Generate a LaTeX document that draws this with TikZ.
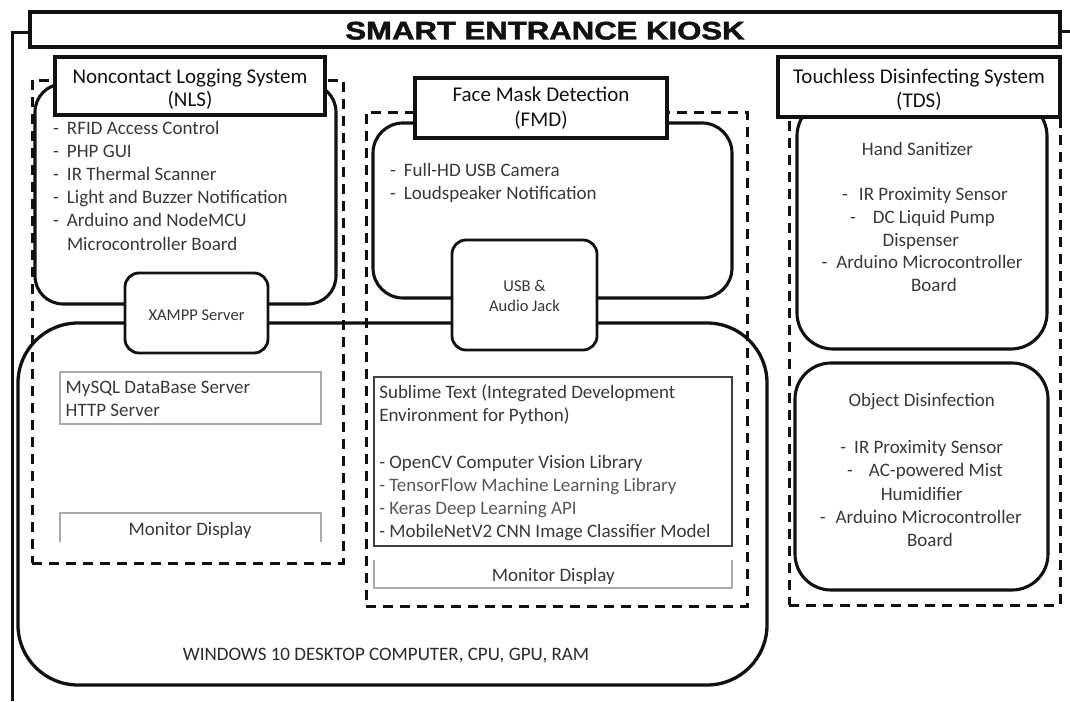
\documentclass[tikz,border=0pt]{standalone}
\usepackage{fontspec}
\usepackage{graphicx}
\setmainfont{Carlito}
\newfontfamily\headfont{Liberation Sans}[BoldFeatures={FakeBold=1.6}]
\usetikzlibrary{fit}

\definecolor{ink}{HTML}{111111}
\definecolor{itemgray}{HTML}{383838}
\definecolor{lightitem}{HTML}{575757}
\definecolor{paleedge}{HTML}{AAAAAA}
\definecolor{darkedge}{HTML}{404040}

\begin{document}
\begin{tikzpicture}[x=1pt,y=-1pt,
  every node/.style={inner sep=0pt, outer sep=0pt},
  framestroke/.style={draw=ink, line width=3pt},
  headbox/.style={draw=ink, line width=4pt, fill=white},
  roundbox/.style={draw=ink, line width=3.1pt},
  dashbox/.style={draw=ink, line width=3pt, dash pattern=on 10pt off 7pt},
  jackbox/.style={draw=ink, line width=2.8pt, fill=white, rounded corners=14pt},
  headtext/.style={anchor=base, font=\fontsize{21}{24}\selectfont, text=ink},
  item/.style={anchor=base west, font=\fontsize{19}{23}\selectfont, text=itemgray},
  citem/.style={anchor=base, font=\fontsize{19}{23}\selectfont, text=itemgray},
  smalltext/.style={anchor=base, font=\fontsize{16.5}{19}\selectfont, text=ink!85},
  paleline/.style={draw=paleedge, line width=1.4pt},
  darkline/.style={draw=darkedge, line width=1.5pt},
]
\useasboundingbox (0,0) rectangle (1070,701);

% desktop computer that hosts the software parts
\node[roundbox, line width=3.3pt, rounded corners=60pt, fit={(18,323) (767,685)}] (pc) {};

% dashed subsystem areas
\node[dashbox, fit={(32,80) (343,563)}] (nlsarea) {};
\node[dashbox, fit={(366,112) (747,606)}] (fmdarea) {};
\node[dashbox, fit={(789,90) (1060,605)}] (tdsarea) {};

% hardware units
\node[roundbox, rounded corners=28pt, fit={(35,84) (336,304)}] (nlsunit) {};
\node[roundbox, rounded corners=30pt, fit={(373,123) (732,298)}] (fmdunit) {};
\node[roundbox, rounded corners=36pt, fit={(797,100) (1047,349)}] (sanitizer) {};
\node[roundbox, rounded corners=36pt, fit={(795,363) (1048,590)}] (objdis) {};

% links between hardware and computer
\node[jackbox, fit={(125,273) (268,353)}] (xampp) {};
\node[jackbox, fit={(452,240) (597,350)}] (usb) {};

% subsystem headers and title
\node[headbox, fit={(55,57) (325,115)}] (nlshead) {};
\node[headbox, fit={(415,78) (667,138)}] (fmdhead) {};
\node[headbox, fit={(778,57) (1060,117)}] (tdshead) {};
\node[headbox, fit={(30,12) (1060,47)}] (title) {};

% outer frame
\coordinate (leftstub) at (0,33);
\coordinate (frameend) at (12,701);
\coordinate (rightend) at (1070,32);
\draw[framestroke] (title.west |- leftstub) -| (frameend);
\draw[framestroke] (title.east |- rightend) -- (rightend);

\node[anchor=base, text=ink, font=\headfont\bfseries\fontsize{25.5}{28}\selectfont] (titletext) at (545,39.5) {\scalebox{1.22}[1]{SMART ENTRANCE KIOSK}};

\node[headtext] (nlst1) at (190,83.3) {Noncontact Logging System};
\node[headtext] (nlst2) at (190,106.7) {(NLS)};
\node[headtext] (fmdt1) at (541,101.7) {Face Mask Detection};
\node[headtext] (fmdt2) at (541,126) {(FMD)};
\node[headtext] (tdst1) at (919,83.3) {Touchless Disinfecting System};
\node[headtext] (tdst2) at (919,107.5) {(TDS)};

% NLS hardware list
\node[item] (nls1) at (53,134) {\makebox[14pt][l]{-}RFID Access Control};
\node[item] (nls2) at (53,157.2) {\makebox[14pt][l]{-}PHP GUI};
\node[item] (nls3) at (53,180.4) {\makebox[14pt][l]{-}IR Thermal Scanner};
\node[item] (nls4) at (53,203.6) {\makebox[14pt][l]{-}Light and Buzzer Notification};
\node[item] (nls5) at (53,226.8) {\makebox[14pt][l]{-}Arduino and NodeMCU};
\node[item] (nls6) at (67,250) {Microcontroller Board};

% FMD hardware list
\node[item] (fmd1) at (390,176) {\makebox[14pt][l]{-}Full-HD USB Camera};
\node[item] (fmd2) at (390,199.3) {\makebox[14pt][l]{-}Loudspeaker Notification};

\node[smalltext] (xampptext) at (196.5,320) {XAMPP Server};
\node[smalltext] (usbtext1) at (524.5,291.7) {USB \&};
\node[smalltext] (usbtext2) at (524.5,311) {Audio Jack};

% NLS software on the computer
\node[paleline, fit={(60,372) (321,424)}] (dbbox) {};
\node[item] (db1) at (65.7,393.3) {MySQL DataBase Server};
\node[item] (db2) at (65.7,416) {HTTP Server};
\node[fit={(60,513) (321,542)}] (nlsmon) {};
\draw[paleline] (nlsmon.south west) -- (nlsmon.north west) -- (nlsmon.north east) -- (nlsmon.south east);
\node[citem] (nlsmontext) at (190,535) {Monitor Display};

% FMD software on the computer
\node[darkline, fit={(374,377) (732,546)}] (ide) {};
\node[item] (ide1) at (379.3,398.3) {Sublime Text (Integrated Development};
\node[item] (ide2) at (379.3,421.7) {Environment for Python)};
\node[item] (ide3) at (379.3,468.3) {- OpenCV Computer Vision Library};
\node[item, text=lightitem] (ide4) at (379.3,491.6) {- TensorFlow Machine Learning Library};
\node[item, text=lightitem] (ide5) at (379.3,514.9) {- Keras Deep Learning API};
\node[item] (ide6) at (379.3,537.5) {- MobileNetV2 CNN Image Classifier Model};
\node[fit={(374,560) (732,588)}] (fmdmon) {};
\draw[paleline] (fmdmon.north west) -- (fmdmon.south west) -- (fmdmon.south east) -- (fmdmon.north east);
\node[citem] (fmdmontext) at (553.3,581.7) {Monitor Display};

\node[citem, text=ink!90] (pctext) at (386,660.7) {WINDOWS 10 DESKTOP COMPUTER, CPU, GPU, RAM};

% TDS units
\node[citem] (san0) at (917.5,155) {Hand Sanitizer};
\node[citem] (san1) at (925,200) {-\hspace{11pt}IR Proximity Sensor};
\node[citem] (san2) at (922.5,223.3) {-\hspace{17pt}DC Liquid Pump};
\node[citem] (san3) at (920.8,246.7) {Dispenser};
\node[citem] (san4) at (922,268.3) {-\hspace{9pt}Arduino Microcontroller};
\node[citem] (san5) at (934,291.7) {Board};

\node[citem] (obj0) at (921.7,406.7) {Object Disinfection};
\node[citem] (obj1) at (921.7,453.3) {-\hspace{8pt}IR Proximity Sensor};
\node[citem] (obj2) at (925,476.7) {-\hspace{16pt}AC-powered Mist};
\node[citem] (obj3) at (921.7,500) {Humidifier};
\node[citem] (obj4) at (920.8,523.3) {-\hspace{10pt}Arduino Microcontroller};
\node[citem] (obj5) at (930,546.7) {Board};
\end{tikzpicture}
\end{document}
